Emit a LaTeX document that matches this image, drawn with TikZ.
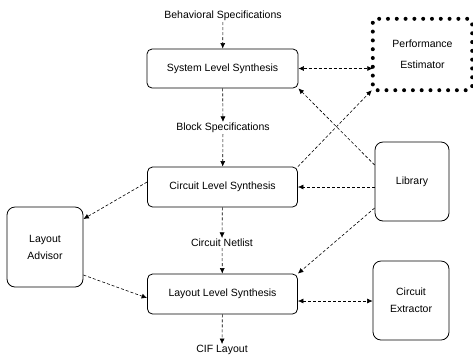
\documentclass[tikz,border=0pt]{standalone}
\usepackage{fontspec}
\setmainfont{Liberation Sans}
\usetikzlibrary{arrows.meta}
\begin{document}
\begin{tikzpicture}[x=1pt,y=-1pt,
  box/.style={draw, rounded corners=5pt, line width=0.8pt, align=center, font=\fontsize{10.5}{17}\selectfont, inner sep=0pt},
  tbox/.style={box, rounded corners=8pt},
  lbl/.style={font=\fontsize{10.5}{13}\selectfont, inner sep=1pt},
  conn/.style={dashed, dash pattern=on 3pt off 2pt, line width=0.6pt, -{Latex[length=5.5pt,width=5pt]}},
  conn2/.style={conn, {Latex[length=5.5pt,width=5pt]}-{Latex[length=5.5pt,width=5pt]}}]
\useasboundingbox (0,0) rectangle (473,360);
\node[box, minimum width=151pt, minimum height=39pt] (sys) at (222.5,68.5) {System Level Synthesis};
\node[box, minimum width=150pt, minimum height=40pt] (cir) at (222.5,187) {Circuit Level Synthesis};
\node[box, minimum width=150pt, minimum height=40pt] (lay) at (222.5,294) {Layout Level Synthesis};
\node[tbox, minimum width=76pt, minimum height=80pt] (adv) at (45,247) {Layout\\Advisor};
\node[tbox, minimum width=74pt, minimum height=79pt] (lib) at (412,181.5) {Library};
\node[tbox, minimum width=76pt, minimum height=79pt] (ext) at (411,300.5) {Circuit\\Extractor};
\node[align=center, font=\fontsize{10.5}{21}\selectfont, minimum width=99pt, minimum height=71pt, inner sep=0pt] (perf) at (422.5,54.5) {Performance\\Estimator};
\draw[line width=4pt, line cap=round, dash pattern=on 0pt off 8.8pt, rounded corners=4pt] (perf.north west) rectangle (perf.south east);
\node[lbl] (beh) at (223,16) {Behavioral Specifications};
\node[lbl] (blk) at (223,128) {Block Specifications};
\node[lbl] (net) at (222,243) {Circuit Netlist};
\node[lbl] (cif) at (222,350) {CIF Layout};
\draw[conn] (beh) -- (sys);
\draw[conn] (sys) -- (blk);
\draw[conn] (blk) -- (cir);
\draw[conn] (cir) -- (net);
\draw[conn] (net) -- (lay);
\draw[conn] (lay) -- (cif);
\draw[conn2] (sys.east) -- (perf.west |- sys.east);
\draw[conn] (lib.west |- 0,165) -- (sys.south east);
\draw[conn] (cir.north east) -- ([xshift=-1pt]perf.south west);
\draw[conn] (lib.west |- cir.east) -- (cir.east);
\draw[conn] (lib.west |- 0,208) -- (lay.north east);
\draw[conn] (cir.west |- 0,182) -- (adv.east |- 0,219);
\draw[conn] (adv.east |- 0,275) -- (lay.west |- 0,298);
\draw[conn2] (lay.east |- 0,301) -- (ext.west |- 0,301);
\end{tikzpicture}
\end{document}
